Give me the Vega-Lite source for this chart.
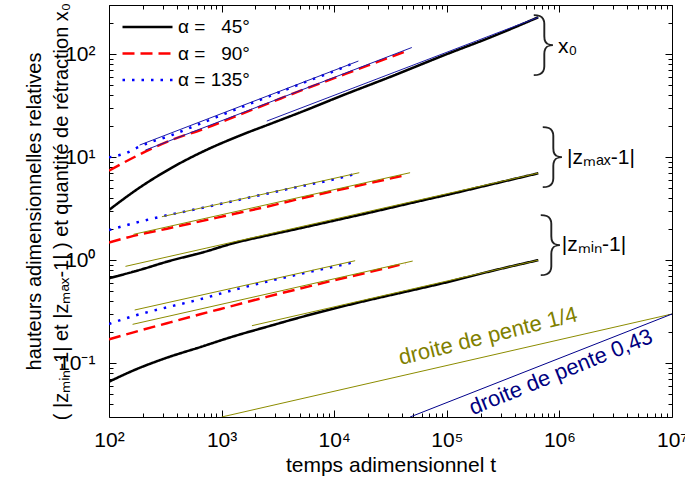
{
  "$schema": "https://vega.github.io/schema/vega-lite/v6.json",
  "width": 563,
  "height": 412,
  "autosize": "none",
  "padding": {"left": 109, "top": 5, "right": 13, "bottom": 66},
  "config": {
    "font": "Liberation Sans",
    "view": {"stroke": "#000", "strokeWidth": 1},
    "axis": {"grid": false, "domain": false, "tickColor": "#000", "tickWidth": 1, "labelColor": "#000", "titleColor": "#000", "titleFontWeight": "normal", "labelFontSize": 21, "titleFontSize": 20, "labelFlush": false, "labelOverlap": false},
    "legend": {"orient": "none", "legendX": 12, "legendY": 9, "padding": 0, "symbolType": "stroke", "symbolSize": 2500, "symbolStrokeWidth": 2.5, "labelFontSize": 19, "labelOffset": 4, "rowPadding": 0.5, "clipHeight": 26, "labelColor": "#000"}
  },
  "datasets": {
    "curves": [
      {"a": "α = \u200745°", "g": "x0", "t": 100, "y": 3.07}, {"a": "α = \u200745°", "g": "x0", "t": 183, "y": 4.98}, {"a": "α = \u200745°", "g": "x0", "t": 362, "y": 7.91}, {"a": "α = \u200745°", "g": "x0", "t": 715, "y": 11.6}, {"a": "α = \u200745°", "g": "x0", "t": 1413, "y": 16.0}, {"a": "α = \u200745°", "g": "x0", "t": 2790, "y": 21.3}, {"a": "α = \u200745°", "g": "x0", "t": 5520, "y": 28.4}, {"a": "α = \u200745°", "g": "x0", "t": 11000, "y": 38.5}, {"a": "α = \u200745°", "g": "x0", "t": 31300, "y": 60}, {"a": "α = \u200745°", "g": "x0", "t": 100000, "y": 100}, {"a": "α = \u200745°", "g": "x0", "t": 242000, "y": 145}, {"a": "α = \u200745°", "g": "x0", "t": 649000, "y": 228},
      {"a": "α = \u200745°", "g": "zmax", "t": 100, "y": 0.667}, {"a": "α = \u200745°", "g": "zmax", "t": 200, "y": 0.82}, {"a": "α = \u200745°", "g": "zmax", "t": 327, "y": 0.966}, {"a": "α = \u200745°", "g": "zmax", "t": 700, "y": 1.2}, {"a": "α = \u200745°", "g": "zmax", "t": 1276, "y": 1.46}, {"a": "α = \u200745°", "g": "zmax", "t": 2500, "y": 1.73}, {"a": "α = \u200745°", "g": "zmax", "t": 4980, "y": 2.04}, {"a": "α = \u200745°", "g": "zmax", "t": 10000, "y": 2.42}, {"a": "α = \u200745°", "g": "zmax", "t": 19450, "y": 2.85}, {"a": "α = \u200745°", "g": "zmax", "t": 54000, "y": 3.69}, {"a": "α = \u200745°", "g": "zmax", "t": 100000, "y": 4.3}, {"a": "α = \u200745°", "g": "zmax", "t": 250000, "y": 5.45}, {"a": "α = \u200745°", "g": "zmax", "t": 649000, "y": 6.97},
      {"a": "α = \u200745°", "g": "zmin", "t": 100, "y": 0.066}, {"a": "α = \u200745°", "g": "zmin", "t": 165, "y": 0.085}, {"a": "α = \u200745°", "g": "zmin", "t": 327, "y": 0.113}, {"a": "α = \u200745°", "g": "zmin", "t": 645, "y": 0.143}, {"a": "α = \u200745°", "g": "zmin", "t": 1276, "y": 0.182}, {"a": "α = \u200745°", "g": "zmin", "t": 2512, "y": 0.225}, {"a": "α = \u200745°", "g": "zmin", "t": 4980, "y": 0.278}, {"a": "α = \u200745°", "g": "zmin", "t": 9840, "y": 0.338}, {"a": "α = \u200745°", "g": "zmin", "t": 19450, "y": 0.405}, {"a": "α = \u200745°", "g": "zmin", "t": 38460, "y": 0.48}, {"a": "α = \u200745°", "g": "zmin", "t": 100000, "y": 0.61}, {"a": "α = \u200745°", "g": "zmin", "t": 250000, "y": 0.785}, {"a": "α = \u200745°", "g": "zmin", "t": 649000, "y": 1.0},
      {"a": "α = \u200790°", "g": "x0", "t": 100, "y": 7.39}, {"a": "α = \u200790°", "g": "x0", "t": 183, "y": 10.5}, {"a": "α = \u200790°", "g": "x0", "t": 362, "y": 14.7}, {"a": "α = \u200790°", "g": "x0", "t": 715, "y": 19.05}, {"a": "α = \u200790°", "g": "x0", "t": 1413, "y": 25.6}, {"a": "α = \u200790°", "g": "x0", "t": 2790, "y": 34.3}, {"a": "α = \u200790°", "g": "x0", "t": 4660, "y": 42.8}, {"a": "α = \u200790°", "g": "x0", "t": 10000, "y": 58.5}, {"a": "α = \u200790°", "g": "x0", "t": 20000, "y": 77.7}, {"a": "α = \u200790°", "g": "x0", "t": 43000, "y": 106},
      {"a": "α = \u200790°", "g": "zmax", "t": 100, "y": 1.48}, {"a": "α = \u200790°", "g": "zmax", "t": 165, "y": 1.72}, {"a": "α = \u200790°", "g": "zmax", "t": 327, "y": 2.02}, {"a": "α = \u200790°", "g": "zmax", "t": 645, "y": 2.38}, {"a": "α = \u200790°", "g": "zmax", "t": 1276, "y": 2.8}, {"a": "α = \u200790°", "g": "zmax", "t": 2512, "y": 3.3}, {"a": "α = \u200790°", "g": "zmax", "t": 4980, "y": 3.95}, {"a": "α = \u200790°", "g": "zmax", "t": 10000, "y": 4.7}, {"a": "α = \u200790°", "g": "zmax", "t": 20000, "y": 5.55}, {"a": "α = \u200790°", "g": "zmax", "t": 43000, "y": 6.7},
      {"a": "α = \u200790°", "g": "zmin", "t": 100, "y": 0.17}, {"a": "α = \u200790°", "g": "zmin", "t": 165, "y": 0.199}, {"a": "α = \u200790°", "g": "zmin", "t": 327, "y": 0.244}, {"a": "α = \u200790°", "g": "zmin", "t": 645, "y": 0.298}, {"a": "α = \u200790°", "g": "zmin", "t": 1276, "y": 0.362}, {"a": "α = \u200790°", "g": "zmin", "t": 2512, "y": 0.44}, {"a": "α = \u200790°", "g": "zmin", "t": 4980, "y": 0.53}, {"a": "α = \u200790°", "g": "zmin", "t": 9840, "y": 0.635}, {"a": "α = \u200790°", "g": "zmin", "t": 19450, "y": 0.755}, {"a": "α = \u200790°", "g": "zmin", "t": 43000, "y": 0.93},
      {"a": "α = 135°", "g": "x0", "t": 100, "y": 9.96}, {"a": "α = 135°", "g": "x0", "t": 140, "y": 10.9}, {"a": "α = 135°", "g": "x0", "t": 190, "y": 12.8}, {"a": "α = 135°", "g": "x0", "t": 362, "y": 16.4}, {"a": "α = 135°", "g": "x0", "t": 715, "y": 22.1}, {"a": "α = 135°", "g": "x0", "t": 1413, "y": 29.8}, {"a": "α = 135°", "g": "x0", "t": 2790, "y": 39.9}, {"a": "α = 135°", "g": "x0", "t": 5520, "y": 53.5}, {"a": "α = 135°", "g": "x0", "t": 10000, "y": 68.5}, {"a": "α = 135°", "g": "x0", "t": 14800, "y": 81.5},
      {"a": "α = 135°", "g": "zmax", "t": 100, "y": 1.96}, {"a": "α = 135°", "g": "zmax", "t": 165, "y": 2.28}, {"a": "α = 135°", "g": "zmax", "t": 295, "y": 2.66}, {"a": "α = 135°", "g": "zmax", "t": 645, "y": 3.18}, {"a": "α = 135°", "g": "zmax", "t": 1276, "y": 3.75}, {"a": "α = 135°", "g": "zmax", "t": 2512, "y": 4.42}, {"a": "α = 135°", "g": "zmax", "t": 4980, "y": 5.2}, {"a": "α = 135°", "g": "zmax", "t": 10000, "y": 6.1}, {"a": "α = 135°", "g": "zmax", "t": 15350, "y": 6.86},
      {"a": "α = 135°", "g": "zmin", "t": 100, "y": 0.24}, {"a": "α = 135°", "g": "zmin", "t": 165, "y": 0.287}, {"a": "α = 135°", "g": "zmin", "t": 327, "y": 0.348}, {"a": "α = 135°", "g": "zmin", "t": 645, "y": 0.417}, {"a": "α = 135°", "g": "zmin", "t": 1276, "y": 0.513}, {"a": "α = 135°", "g": "zmin", "t": 2512, "y": 0.618}, {"a": "α = 135°", "g": "zmin", "t": 4980, "y": 0.733}, {"a": "α = 135°", "g": "zmin", "t": 9840, "y": 0.863}, {"a": "α = 135°", "g": "zmin", "t": 14800, "y": 0.953}
    ],
    "fitx": [
      {"s": "f1", "t": 2520, "y": 22.4}, {"s": "f1", "t": 649000, "y": 228},
      {"s": "f2", "t": 210, "y": 11.7}, {"s": "f2", "t": 48900, "y": 116},
      {"s": "f3", "t": 187, "y": 13.1}, {"s": "f3", "t": 16400, "y": 85.7}
    ],
    "fitz": [
      {"s": "f4", "t": 140, "y": 0.87}, {"s": "f4", "t": 649000, "y": 7.0},
      {"s": "f5", "t": 165, "y": 1.78}, {"s": "f5", "t": 47200, "y": 7.06},
      {"s": "f6", "t": 295, "y": 2.64}, {"s": "f6", "t": 16700, "y": 7.06},
      {"s": "f7", "t": 1860, "y": 0.231}, {"s": "f7", "t": 649000, "y": 1.0},
      {"s": "f8", "t": 162, "y": 0.238}, {"s": "f8", "t": 49800, "y": 0.98},
      {"s": "f9", "t": 169, "y": 0.328}, {"s": "f9", "t": 15350, "y": 0.987}
    ],
    "ref14": [{"t": 1000, "y": 0.03}, {"t": 10000000, "y": 0.3}],
    "ref043": [{"t": 47200, "y": 0.03}, {"t": 10000000, "y": 0.3}],
    "braces": [{"t": 715000, "y": 125}, {"t": 860000, "y": 10.3}, {"t": 826000, "y": 1.43}],
    "labels": [{"t": 971000, "y": 117, "txt": "x₀"}, {"t": 1170000, "y": 9.8, "txt": "|zₘₐₓ-1|"}, {"t": 1050000, "y": 1.4, "txt": "|zₘᵢₙ-1|"}],
    "lab14": [{"t": 232000, "y": 0.183, "txt": "droite de pente 1/4"}],
    "lab043": [{"t": 1030000, "y": 0.082, "txt": "droite de pente 0,43"}]
  },
  "resolve": {"axis": {"x": "independent", "y": "independent"}},
  "layer": [
    {
      "data": {"name": "curves"},
      "mark": {"type": "line", "strokeWidth": 2.5, "clip": true, "interpolate": "monotone"},
      "encoding": {
        "x": {"field": "t", "type": "quantitative", "scale": {"type": "log", "domain": [100, 10000000], "nice": false},
          "axis": {"orient": "bottom", "values": [100, 1000, 10000, 100000, 1000000, 10000000], "tickSize": -7, "labelPadding": 19,
            "labelExpr": "'10' + ['⁰','¹','²','³','⁴','⁵','⁶','⁷'][round(log(datum.value)/LN10)]",
            "title": "temps adimensionnel t", "titlePadding": 4, "titleFontSize": 21}},
        "y": {"field": "y", "type": "quantitative", "scale": {"type": "log", "domain": [0.03, 300], "nice": false},
          "axis": {"orient": "left", "values": [0.1, 1, 10, 100], "tickSize": -7, "labelPadding": 21,
            "labelExpr": "'10' + ['⁻¹','⁰','¹','²'][round(log(datum.value)/LN10)+1]",
            "title": ["hauteurs adimensionnelles relatives", "( |zₘᵢₙ-1| et |zₘₐₓ-1| ) et quantité de rétraction x₀"], "titlePadding": -14, "titleLineHeight": 27}},
        "color": {"field": "a", "type": "nominal", "scale": {"domain": ["α = \u200745°", "α = \u200790°", "α = 135°"], "range": ["#000000", "#ff0000", "#0000ff"]}, "legend": {"title": null}},
        "strokeDash": {"field": "a", "type": "nominal", "scale": {"domain": ["α = \u200745°", "α = \u200790°", "α = 135°"], "range": [[1, 0], [12, 6], [2.5, 7]]}, "legend": {"title": null}},
        "detail": {"field": "g"}
      }
    },
    {
      "data": {"name": "fitx"},
      "mark": {"type": "line", "strokeWidth": 1, "color": "#1c1ca8", "clip": true},
      "encoding": {
        "x": {"field": "t", "type": "quantitative", "scale": {"type": "log"},
          "axis": {"orient": "bottom", "values": [200,300,400,500,600,700,800,900,2000,3000,4000,5000,6000,7000,8000,9000,20000,30000,40000,50000,60000,70000,80000,90000,200000,300000,400000,500000,600000,700000,800000,900000,2000000,3000000,4000000,5000000,6000000,7000000,8000000,9000000], "tickSize": -4, "labels": false, "title": null}},
        "y": {"field": "y", "type": "quantitative", "scale": {"type": "log"},
          "axis": {"orient": "left", "values": [0.04,0.05,0.06,0.07,0.08,0.09,0.2,0.3,0.4,0.5,0.6,0.7,0.8,0.9,2,3,4,5,6,7,8,9,20,30,40,50,60,70,80,90,200,300], "tickSize": -4, "labels": false, "title": null}},
        "detail": {"field": "s"}
      }
    },
    {
      "data": {"name": "fitz"},
      "mark": {"type": "line", "strokeWidth": 1, "color": "#8c8c00", "clip": true},
      "encoding": {
        "x": {"field": "t", "type": "quantitative", "scale": {"type": "log"},
          "axis": {"orient": "top", "values": [100, 1000, 10000, 100000, 1000000, 10000000], "tickSize": -7, "labels": false, "title": null}},
        "y": {"field": "y", "type": "quantitative", "scale": {"type": "log"},
          "axis": {"orient": "right", "values": [0.1, 1, 10, 100], "tickSize": -7, "labels": false, "title": null}},
        "detail": {"field": "s"}
      }
    },
    {
      "data": {"name": "ref14"},
      "mark": {"type": "line", "strokeWidth": 1, "color": "#8c8c00", "clip": true},
      "encoding": {
        "x": {"field": "t", "type": "quantitative", "scale": {"type": "log"},
          "axis": {"orient": "top", "values": [200,300,400,500,600,700,800,900,2000,3000,4000,5000,6000,7000,8000,9000,20000,30000,40000,50000,60000,70000,80000,90000,200000,300000,400000,500000,600000,700000,800000,900000,2000000,3000000,4000000,5000000,6000000,7000000,8000000,9000000], "tickSize": -4, "labels": false, "title": null}},
        "y": {"field": "y", "type": "quantitative", "scale": {"type": "log"},
          "axis": {"orient": "right", "values": [0.04,0.05,0.06,0.07,0.08,0.09,0.2,0.3,0.4,0.5,0.6,0.7,0.8,0.9,2,3,4,5,6,7,8,9,20,30,40,50,60,70,80,90,200,300], "tickSize": -4, "labels": false, "title": null}}
      }
    },
    {
      "data": {"name": "ref043"},
      "mark": {"type": "line", "strokeWidth": 1, "color": "#00008b", "clip": true},
      "encoding": {
        "x": {"field": "t", "type": "quantitative", "scale": {"type": "log"}, "axis": null},
        "y": {"field": "y", "type": "quantitative", "scale": {"type": "log"}, "axis": null}
      }
    },
    {
      "data": {"name": "braces"},
      "mark": {"type": "text", "text": "}", "font": "Noto Sans", "fontWeight": 100, "fontSize": 70, "align": "center", "baseline": "middle", "color": "#222"},
      "encoding": {
        "x": {"field": "t", "type": "quantitative", "scale": {"type": "log"}, "axis": null},
        "y": {"field": "y", "type": "quantitative", "scale": {"type": "log"}, "axis": null}
      }
    },
    {
      "data": {"name": "labels"},
      "mark": {"type": "text", "fontSize": 21, "align": "left", "baseline": "middle", "color": "#000"},
      "encoding": {
        "x": {"field": "t", "type": "quantitative", "scale": {"type": "log"}, "axis": null},
        "y": {"field": "y", "type": "quantitative", "scale": {"type": "log"}, "axis": null},
        "text": {"field": "txt"}
      }
    },
    {
      "data": {"name": "lab14"},
      "mark": {"type": "text", "fontSize": 22, "align": "center", "baseline": "middle", "angle": 346, "color": "#808000"},
      "encoding": {
        "x": {"field": "t", "type": "quantitative", "scale": {"type": "log"}, "axis": null},
        "y": {"field": "y", "type": "quantitative", "scale": {"type": "log"}, "axis": null},
        "text": {"field": "txt"}
      }
    },
    {
      "data": {"name": "lab043"},
      "mark": {"type": "text", "fontSize": 22, "align": "center", "baseline": "middle", "angle": 338, "color": "#000080"},
      "encoding": {
        "x": {"field": "t", "type": "quantitative", "scale": {"type": "log"}, "axis": null},
        "y": {"field": "y", "type": "quantitative", "scale": {"type": "log"}, "axis": null},
        "text": {"field": "txt"}
      }
    }
  ]
}
